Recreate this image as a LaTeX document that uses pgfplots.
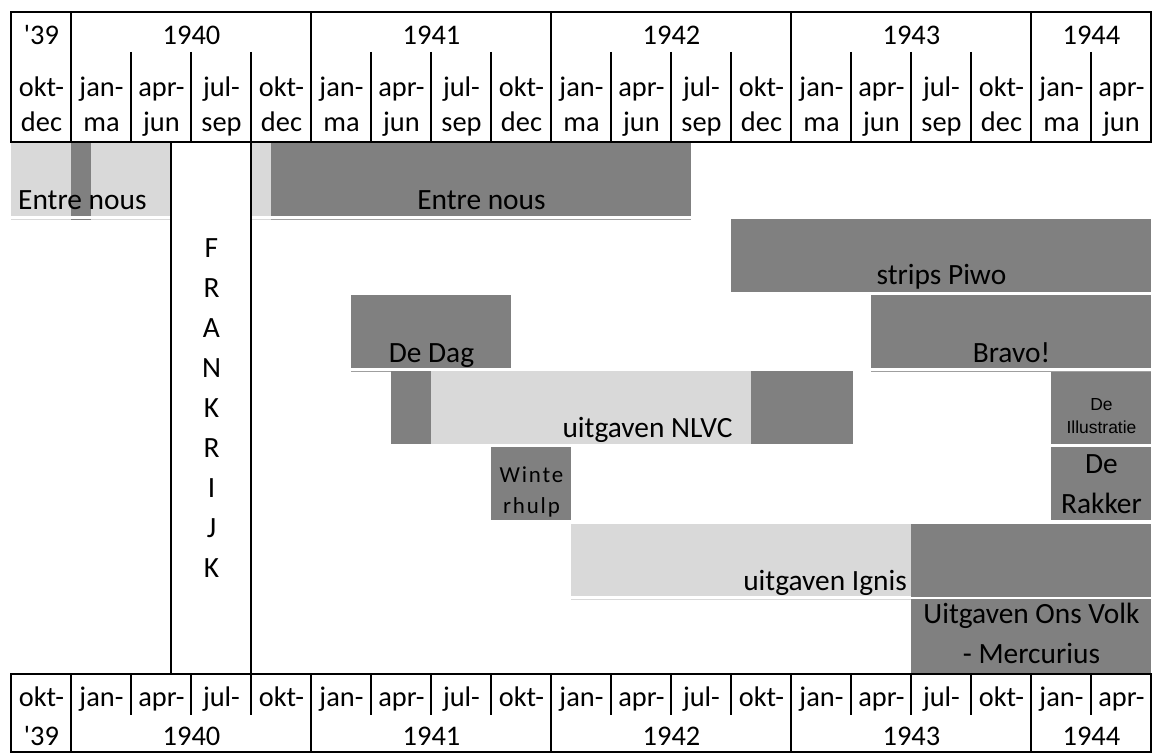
\documentclass[border=0pt]{standalone}
\usepackage{fontspec}
\setmainfont{Carlito}
\newfontfamily\arialfont{Liberation Sans}
\newfontfamily\plainfont{Carlito}[Ligatures=TeXOff]
\usepackage{pgfplots}
\pgfplotsset{compat=1.18}
\definecolor{dk}{RGB}{128,128,128}
\definecolor{lt}{RGB}{217,217,217}
\newcommand{\rect}[5]{\addplot[fill=#5,draw=none] coordinates {(#1,#3) (#2,#3) (#2,#4) (#1,#4)} -- cycle;}
\newcommand{\uline}[4]{\addplot[draw=#4,line width=1bp] coordinates {(#1,#3) (#2,#3)};}
\tikzset{hf/.style={inner sep=0pt,font=\fontsize{28.5}{34}\selectfont},
         df/.style={inner sep=0pt,font=\fontsize{29.5}{35}\selectfont}}
\newcommand{\qlab}[3]{\node[anchor=base,hf] at (#1,96.7) {#2};\node[anchor=base,hf] at (#1,131.7) {#3};\node[anchor=base,hf] at (#1,706.7) {#2};}
\newcommand{\ylab}[2]{\node[anchor=base,hf] at (#1,45) {#2};\node[anchor=base,hf] at (#1,745) {#2};}
\begin{document}
\begin{tikzpicture}
\useasboundingbox (0,0) rectangle (1152bp,754bp);
\begin{axis}[at={(0,0)},anchor=south west,scale only axis,width=1152bp,height=754bp,
  xmin=-0.575,xmax=57.025,ymin=0,ymax=754,y dir=reverse,hide axis,clip=false]
% ---- bars (x in months from Oct 1939, y in rows) ----
% Entre nous
\rect{0}{8}{142}{216}{lt}
\rect{3}{4}{142}{216}{dk}
\uline{0}{8}{219}{lt}
\uline{3}{4}{219}{dk}
\rect{12}{13}{142}{216}{lt}
\rect{13}{34}{142}{216}{dk}
\uline{12}{13}{219}{lt}
\uline{13}{34}{219}{gray!75}
% strips Piwo
\rect{36}{57}{219}{292}{dk}
% De Dag
\rect{17}{25}{295}{368}{dk}
\uline{17}{25}{371.5}{gray!75}
% Bravo!
\rect{43}{57}{295}{368}{dk}
\uline{43}{57}{371.5}{gray!75}
% uitgaven NLVC
\rect{19}{21}{371}{444}{dk}
\rect{21}{37}{371}{444}{lt}
\rect{37}{42.1}{371}{444}{dk}
% De Illustratie
\rect{52}{57}{372}{444}{dk}
% Winterhulp
\rect{24}{28}{447}{520}{dk}
% De Rakker
\rect{52}{57}{447}{520}{dk}
% uitgaven Ignis
\rect{28}{45}{524}{596}{lt}
\uline{28}{45}{599}{lt}
\rect{45}{57}{524}{597}{dk}
% Uitgaven Ons Volk - Mercurius
\rect{45}{57}{599}{674}{dk}
% ---- header grid ----
\draw[line width=2bp] (0,12) rectangle (57,142);
\draw[line width=2bp] (0,674) rectangle (57,752);
\draw[line width=2bp] (3,12) -- (3,142) (15,12) -- (15,142) (27,12) -- (27,142) (39,12) -- (39,142) (51,12) -- (51,142);
\draw[line width=2bp] (6,52) -- (6,142) (9,52) -- (9,142) (12,52) -- (12,142) (18,52) -- (18,142) (21,52) -- (21,142) (24,52) -- (24,142) (30,52) -- (30,142) (33,52) -- (33,142) (36,52) -- (36,142) (42,52) -- (42,142) (45,52) -- (45,142) (48,52) -- (48,142) (54,52) -- (54,142);
\draw[line width=2bp] (3,674) -- (3,752) (15,674) -- (15,752) (27,674) -- (27,752) (39,674) -- (39,752) (51,674) -- (51,752);
\draw[line width=2bp] (6,674) -- (6,715) (9,674) -- (9,715) (12,674) -- (12,715) (18,674) -- (18,715) (21,674) -- (21,715) (24,674) -- (24,715) (30,674) -- (30,715) (33,674) -- (33,715) (36,674) -- (36,715) (42,674) -- (42,715) (45,674) -- (45,715) (48,674) -- (48,715) (54,674) -- (54,715);
% FRANKRIJK column
\draw[line width=2bp] (8,142) -- (8,674) (12,142) -- (12,674);
% ---- header labels ----
\ylab{1.5}{{\plainfont '39}}\ylab{9}{1940}\ylab{21}{1941}\ylab{33}{1942}\ylab{45}{1943}\ylab{54}{1944}
\qlab{1.5}{okt-}{dec}\qlab{4.5}{jan-}{ma}\qlab{7.5}{apr-}{jun}\qlab{10.5}{jul-}{sep}
\qlab{13.5}{okt-}{dec}\qlab{16.5}{jan-}{ma}\qlab{19.5}{apr-}{jun}\qlab{22.5}{jul-}{sep}
\qlab{25.5}{okt-}{dec}\qlab{28.5}{jan-}{ma}\qlab{31.5}{apr-}{jun}\qlab{34.5}{jul-}{sep}
\qlab{37.5}{okt-}{dec}\qlab{40.5}{jan-}{ma}\qlab{43.5}{apr-}{jun}\qlab{46.5}{jul-}{sep}
\qlab{49.5}{okt-}{dec}\qlab{52.5}{jan-}{ma}\qlab{55.5}{apr-}{jun}
% ---- bar labels ----
\node[df,anchor=base west] at (0.325,209) {Entre nous};
\node[df,anchor=base] at (23.5,209) {Entre nous};
\node[df,anchor=base] at (46.5,284) {strips Piwo};
\node[df,anchor=base] at (21,362) {De Dag};
\node[df,anchor=base] at (50,362) {Bravo!};
\node[df,anchor=base] at (31.8,437) {uitgaven NLVC};
\node[inner sep=0pt,anchor=base,font=\fontsize{23}{28}\selectfont\addfontfeature{LetterSpace=8}] at (26,482) {Winte};
\node[inner sep=0pt,anchor=base,font=\fontsize{23}{28}\selectfont\addfontfeature{LetterSpace=8}] at (26,513) {rhulp};
\node[inner sep=0pt,anchor=base,font=\arialfont\fontsize{17.5}{20}\selectfont] at (54.5,410) {De};
\node[inner sep=0pt,anchor=base,font=\arialfont\fontsize{17.5}{20}\selectfont] at (54.5,433) {Illustratie};
\node[df,anchor=base] at (54.5,473) {De};
\node[df,anchor=base] at (54.5,513) {Rakker};
\node[df,anchor=base east] at (44.775,590) {uitgaven Ignis};
\node[df,anchor=base] at (51,623) {Uitgaven Ons Volk};
\node[df,anchor=base] at (51,663) {- Mercurius};
\node[df,anchor=base] at (10,257) {F};
\node[df,anchor=base] at (10,297) {R};
\node[df,anchor=base] at (10,337) {A};
\node[df,anchor=base] at (10,377) {N};
\node[df,anchor=base] at (10,417) {K};
\node[df,anchor=base] at (10,457) {R};
\node[df,anchor=base] at (10,497) {I};
\node[df,anchor=base] at (10,537) {J};
\node[df,anchor=base] at (10,577) {K};
\end{axis}
\end{tikzpicture}
\end{document}
